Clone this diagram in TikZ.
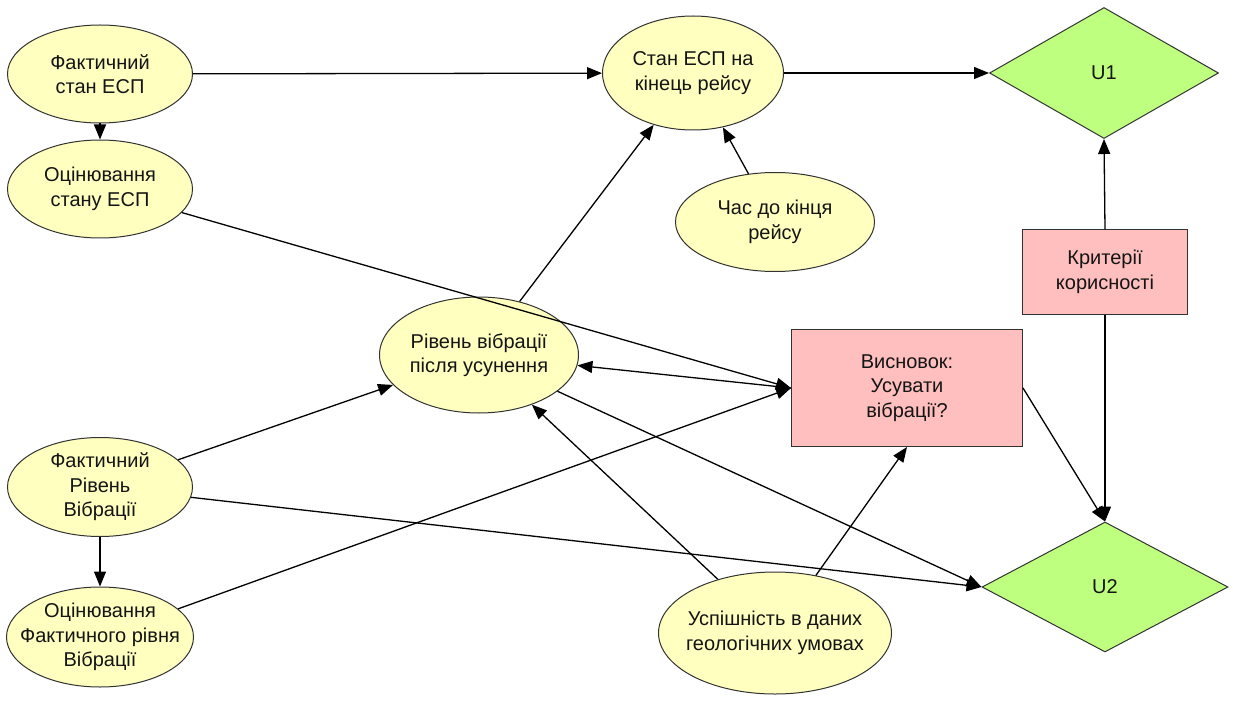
\documentclass[tikz,border=0pt]{standalone}
\usepackage{fontspec}
\setmainfont{Liberation Sans}
\usetikzlibrary{shapes.geometric,arrows.meta}
\definecolor{ellfill}{RGB}{255,255,192}
\definecolor{recfill}{RGB}{255,191,191}
\definecolor{diafill}{RGB}{191,255,128}
\definecolor{bord}{RGB}{50,50,50}
\definecolor{txt}{RGB}{20,20,20}
\tikzset{
  base/.style={draw=bord, line width=1pt, inner sep=0pt, align=center, text=txt,
    font=\fontsize{20}{24.5}\selectfont},
  ell/.style={base, ellipse, fill=ellfill, inner xsep=-25pt, inner ysep=-12pt},
  rec/.style={base, rectangle, fill=recfill},
  dia/.style={base, diamond, fill=diafill},
  arr/.style={-{Triangle[length=15pt,width=12pt]}, line width=1.3pt, draw=black}
}
\begin{document}
\begin{tikzpicture}[x=1pt,y=-1pt]
\useasboundingbox (0,0) rectangle (1233,703);
% nodes
\node[ell, minimum width=185pt, minimum height=98pt] (fs) at (100,74) {Фактичний\\стан ЕСП};
\node[ell, minimum width=185pt, minimum height=98pt] (os) at (100,189) {Оцінювання\\стану ЕСП};
\node[ell, minimum width=181pt, minimum height=114pt] (stan) at (693,73) {Стан ЕСП на\\кінець рейсу};
\node[ell, minimum width=199pt, minimum height=99pt] (chas) at (775,222) {Час до кінця\\рейсу};
\node[dia, minimum width=229pt, minimum height=131pt] (u1) at (1104,73) {U1};
\node[rec, minimum width=165pt, minimum height=84pt] (crit) at (1105,272) {Критерії\\корисності};
\node[ell, minimum width=199pt, minimum height=116pt] (riv) at (479,355) {Рівень вібрації\\після усунення};
\node[rec, minimum width=231pt, minimum height=117pt] (vysn) at (907,388) {Висновок:\\Усувати\\вібрації?};
\node[ell, minimum width=185pt, minimum height=99pt] (fr) at (100,487) {Фактичний\\Рівень\\Вібрації};
\node[ell, minimum width=187pt, minimum height=100pt] (ofr) at (100,637) {Оцінювання\\Фактичного рівня\\Вібрації};
\node[ell, minimum width=233pt, minimum height=122pt] (usp) at (775,633) {Успішність в даних\\геологічних умовах};
\node[dia, minimum width=246pt, minimum height=130pt] (u2) at (1105,587) {U2};
% connectors
\draw[arr] (fs) -- (stan);
\draw[arr] (fs) -- (os);
\draw[arr] (stan) -- (u1.west);
\draw[arr] (chas) -- (stan);
\draw[arr] (crit.north) -- (u1.south);
\draw[arr] (crit.south) -- (u2.north);
\draw[arr] (os) -- (vysn.west);
\draw[arr] (riv) -- (stan);
\draw[arr] (vysn.west) -- (riv);
\draw[arr] (riv) -- (u2.west);
\draw[arr] (fr) -- (riv);
\draw[arr] (fr) -- (u2.west);
\draw[arr] (fr) -- (ofr);
\draw[arr] (ofr) -- (vysn.west);
\draw[arr] (usp) -- (riv);
\draw[arr] (usp) -- (vysn.south);
\draw[arr] (vysn.east) -- (u2.north);
\end{tikzpicture}
\end{document}
